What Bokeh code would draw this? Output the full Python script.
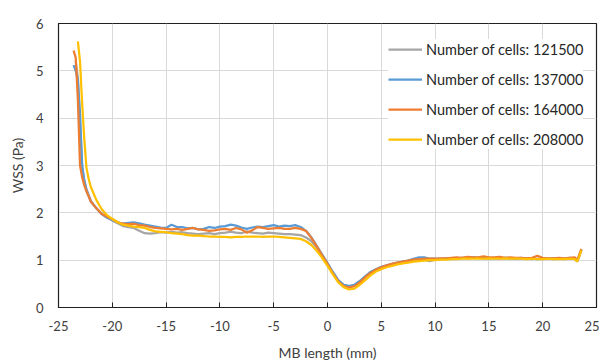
from bokeh.plotting import figure
from bokeh.models import Range1d, FixedTicker, ColumnDataSource
from bokeh.embed import file_html
from bokeh.resources import INLINE

NaN = float("nan")

# MB length (mm)
x_mm = [-23.6, -23.4, -23.2, -23.0, -22.8, -22.6, -22.4, -22.2, -22.0,
        -21.5, -21.0, -20.5, -20.0, -19.5, -19.0, -18.5, -18.0, -17.5, -17.0,
        -16.5, -16.0, -15.5, -15.0, -14.5, -14.0, -13.5, -13.0, -12.5, -12.0,
        -11.5, -11.0, -10.5, -10.0, -9.5, -9.0, -8.5, -8.0, -7.5, -7.0,
        -6.5, -6.0, -5.5, -5.0, -4.5, -4.0, -3.5, -3.0, -2.5,
        -2.0, -1.5, -1.0, -0.5, 0.0, 0.5, 1.0, 1.5, 2.0, 2.5, 3.0, 3.5,
        4.0, 4.5, 5.0, 5.5, 6.0, 6.5, 7.0, 7.5, 8.0, 8.5, 9.0, 9.5,
        10.0, 10.5, 11.0, 11.5, 12.0, 12.5, 13.0, 13.5, 14.0, 14.5, 15.0,
        15.5, 16.0, 16.5, 17.0, 17.5, 18.0, 18.5, 19.0, 19.5, 20.0, 20.5,
        21.0, 21.5, 22.0, 22.5, 23.0,
        23.2, 23.4, 23.6]

# WSS (Pa) per mesh
wss_121500 = [NaN, 5.20, 4.85, 3.90, 2.95, 2.68, 2.50, 2.38, 2.26,
              2.10, 1.98, 1.90, 1.84, 1.78, 1.72, 1.70, 1.68, 1.62, 1.57,
              1.56, 1.57, 1.59, 1.58, 1.60, 1.58, 1.59, 1.57, 1.56, 1.55,
              1.56, 1.57, 1.55, 1.57, 1.58, 1.60, 1.58, 1.57, 1.61, 1.58,
              1.57, 1.56, 1.58, 1.57, 1.56, 1.55, 1.55, 1.54, 1.53,
              1.48, 1.40, 1.27, 1.10, 0.92, 0.73, 0.57, 0.48, 0.45, 0.47, 0.55, 0.65,
              0.74, 0.80, 0.85, 0.88, 0.91, 0.94, 0.96, 0.98, 1.00, 1.02, 1.01, 0.98,
              1.01, 1.02, 1.03, 1.03, 1.04, 1.05, 1.04, 1.05, 1.05, 1.04, 1.05,
              1.04, 1.04, 1.05, 1.04, 1.03, 1.04, 1.03, 1.02, 1.03, 1.02, 1.03,
              1.02, 1.03, 1.02, 1.04, 1.03,
              0.97, 1.08, 1.22]

wss_137000 = [5.12, 5.00, 4.80, 4.10, 3.00, 2.68, 2.48, 2.36, 2.24,
              2.10, 1.98, 1.90, 1.85, 1.80, 1.77, 1.79, 1.80, 1.78, 1.75,
              1.73, 1.71, 1.69, 1.68, 1.75, 1.70, 1.70, 1.67, 1.68, 1.65,
              1.66, 1.70, 1.68, 1.71, 1.72, 1.75, 1.73, 1.69, 1.66, 1.69,
              1.71, 1.70, 1.72, 1.74, 1.71, 1.73, 1.72, 1.74, 1.70,
              1.62, 1.48, 1.30, 1.12, 0.94, 0.75, 0.58, 0.48, 0.45, 0.48, 0.56, 0.66,
              0.75, 0.81, 0.86, 0.89, 0.92, 0.95, 0.97, 0.99, 1.03, 1.06, 1.06, 1.03,
              1.03, 1.03, 1.04, 1.04, 1.03, 1.05, 1.05, 1.06, 1.05, 1.05, 1.04,
              1.05, 1.04, 1.05, 1.04, 1.04, 1.05, 1.03, 1.03, 1.02, 1.03, 1.03,
              1.04, 1.03, 1.03, 1.05, 1.04,
              0.98, 1.10, 1.22]

wss_164000 = [5.43, 5.28, 4.40, 3.00, 2.75, 2.58, 2.45, 2.35, 2.24,
              2.10, 1.98, 1.92, 1.87, 1.80, 1.77, 1.76, 1.77, 1.74, 1.73,
              1.70, 1.68, 1.67, 1.66, 1.65, 1.66, 1.64, 1.66, 1.68, 1.65,
              1.64, 1.62, 1.63, 1.65, 1.66, 1.64, 1.68, 1.65, 1.58, 1.63,
              1.70, 1.68, 1.66, 1.67, 1.68, 1.66, 1.66, 1.68, 1.66,
              1.62, 1.47, 1.29, 1.10, 0.92, 0.72, 0.55, 0.45, 0.42, 0.45, 0.53, 0.64,
              0.73, 0.80, 0.85, 0.89, 0.92, 0.95, 0.97, 0.99, 1.01, 1.02, 1.03, 1.03,
              1.03, 1.04, 1.04, 1.05, 1.06, 1.05, 1.07, 1.06, 1.06, 1.08, 1.06,
              1.06, 1.07, 1.05, 1.06, 1.05, 1.05, 1.04, 1.05, 1.09, 1.05, 1.04,
              1.04, 1.05, 1.04, 1.05, 1.06,
              0.99, 1.12, 1.24]

wss_208000 = [NaN, NaN, 5.62, 5.20, 4.30, 3.55, 2.95, 2.72, 2.55,
              2.28, 2.08, 1.95, 1.87, 1.80, 1.75, 1.73, 1.71, 1.70, 1.68,
              1.64, 1.61, 1.60, 1.59, 1.57, 1.56, 1.55, 1.53, 1.52, 1.52,
              1.51, 1.50, 1.50, 1.49, 1.49, 1.48, 1.49, 1.49, 1.50, 1.50,
              1.50, 1.49, 1.50, 1.50, 1.49, 1.48, 1.47, 1.46, 1.45,
              1.40, 1.32, 1.20, 1.05, 0.88, 0.70, 0.53, 0.43, 0.38, 0.40, 0.48, 0.58,
              0.68, 0.76, 0.81, 0.85, 0.88, 0.91, 0.93, 0.95, 0.97, 0.98, 0.99, 1.00,
              1.00, 1.01, 1.01, 1.02, 1.02, 1.03, 1.03, 1.03, 1.04, 1.03, 1.04,
              1.03, 1.03, 1.04, 1.03, 1.03, 1.03, 1.02, 1.03, 1.02, 1.02, 1.03,
              1.02, 1.02, 1.02, 1.03, 1.02,
              0.97, 1.08, 1.21]

series_labels = ["Number of cells: 121500", "Number of cells: 137000",
                 "Number of cells: 164000", "Number of cells: 208000"]
series_colors = ["#A5A5A5", "#5B9BD5", "#ED7D31", "#FFC000"]

x_ticks = [-25, -20, -15, -10, -5, 0, 5, 10, 15, 20, 25]
x_tick_labels = ["-25", "-20", "-15", "-10", "-5", "0", "5", "10", "15", "20", "25"]
y_ticks = [0, 1, 2, 3, 4, 5, 6]
y_tick_labels = ["0", "1", "2", "3", "4", "5", "6"]

FONT = "Lato"
TXT = "#404040"

p = figure(width=599, height=363, output_backend="svg", toolbar_location=None,
           x_range=Range1d(-25, 25), y_range=Range1d(0, 6),
           min_border_left=58, min_border_top=23, min_border_bottom=55,
           min_border_right=3)

src = ColumnDataSource(dict(x=x_mm, a=wss_121500, b=wss_137000,
                            c=wss_164000, d=wss_208000))
for col, lab, colr in zip(["a", "b", "c", "d"], series_labels, series_colors):
    p.line("x", col, source=src, line_color=colr, line_width=2.25,
           legend_label=lab)

p.xaxis.ticker = FixedTicker(ticks=x_ticks)
p.yaxis.ticker = FixedTicker(ticks=y_ticks)
p.xaxis.major_label_overrides = {t: s for t, s in zip(x_ticks, x_tick_labels)}
p.yaxis.major_label_overrides = {t: s for t, s in zip(y_ticks, y_tick_labels)}
p.xaxis.minor_tick_line_color = None
p.yaxis.minor_tick_line_color = None
p.xaxis.major_tick_in = 5
p.xaxis.major_tick_out = 0
p.yaxis.major_tick_in = 0
p.yaxis.major_tick_out = 0
p.axis.axis_line_color = "#202020"
p.axis.major_tick_line_color = "#202020"
p.axis.major_label_text_font = FONT
p.axis.major_label_text_font_size = "13px"
p.axis.major_label_text_color = TXT
p.axis.axis_label_text_font = FONT
p.axis.axis_label_text_font_size = "14px"
p.axis.axis_label_text_font_style = "normal"
p.axis.axis_label_text_color = TXT
p.xaxis.axis_label = "MB length (mm)"
p.yaxis.axis_label = "WSS (Pa)"
p.xaxis.major_label_standoff = 13
p.yaxis.major_label_standoff = 15
p.xaxis.axis_label_standoff = 10
p.yaxis.axis_label_standoff = 7

p.grid.grid_line_color = "#D9D9D9"
p.grid.grid_line_width = 1
p.outline_line_color = "#202020"
p.outline_line_width = 1.2
p.background_fill_color = "white"
p.border_fill_color = "white"

lg = p.legend[0]
lg.location = (330, 158)
lg.border_line_color = None
lg.background_fill_color = "white"
lg.background_fill_alpha = 1.0
lg.label_text_font = FONT
lg.label_text_font_size = "14.5px"
lg.label_text_color = "#262626"
lg.glyph_width = 34
lg.glyph_height = 20
lg.label_height = 20
lg.label_standoff = 4
lg.spacing = 10
lg.padding = 6
lg.margin = 0

open("out.html", "w").write(file_html(p, INLINE))
